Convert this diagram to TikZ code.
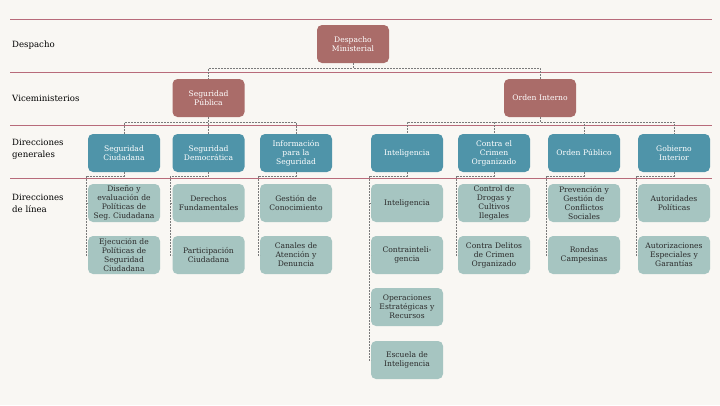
\documentclass[tikz,border=0pt]{standalone}
\usepackage{fontspec}
\setmainfont{DejaVu Serif}
\usepackage{xcolor}
\usetikzlibrary{positioning}
\definecolor{pagebg}{HTML}{F9F7F3}
\definecolor{rulepink}{HTML}{B86B7A}
\definecolor{topred}{HTML}{AA6C69}
\definecolor{genblue}{HTML}{4F94A9}
\definecolor{linesage}{HTML}{A6C5C1}
\definecolor{conngray}{HTML}{7A7A7A}
\definecolor{inkdark}{HTML}{2B2B2B}
\tikzstyle{box} = [rounded corners=5pt, minimum width=72pt, minimum height=38pt, text width=71pt, align=center, inner sep=0.5pt, font=\fontsize{7.6}{9}\selectfont]
\tikzset{vice/.style={box, fill=topred, text=white},
    dirgen/.style={box, fill=genblue, text=white},
    dirlin/.style={box, fill=linesage, text=inkdark},
    lab/.style={anchor=west, align=left, inner sep=0pt, text=black, font=\fontsize{8.6}{12}\selectfont},
    rule/.style={draw=rulepink, line width=0.7pt},
    conn/.style={draw=conngray, line width=0.6pt, dash pattern=on 2pt off 1pt}}

\begin{document}
\begin{tikzpicture}[x=1pt, y=-1pt]
    % Page and row rules
    \fill[pagebg] (0,0) rectangle (720,405);
    \useasboundingbox (0,0) rectangle (720,405);
    \foreach \y in {19,72,125,178}
        \draw[rule] (10,\y) -- (712,\y);
    %
    \node[lab] (lDes) at (12,45) {Despacho};
    \node[lab] (lVic) at (12,98) {Viceministerios};
    \node[lab] (lGen) at (12,149) {Direcciones\\generales};
    \node[lab] (lLin) at (12,203) {Direcciones\\de línea};
    % Despacho and viceministerios
    \node[vice] (dm) at (353,44) {Despacho\\Ministerial};
    \node[vice] (sp) at (208.5,98) {Seguridad\\Pública};
    \node[vice] (oi) at (540,98) {Orden Interno};
    % Direcciones generales
    \node[dirgen] (sc) at (124,153) {Seguridad\\Ciudadana};
    \node[dirgen] (sd) at (208.5,153) {Seguridad\\Democrática};
    \node[dirgen] (is) at (296,153) {Información\\para la\\Seguridad};
    \node[dirgen] (in) at (407,153) {Inteligencia};
    \node[dirgen] (co) at (494,153) {Contra el\\Crimen\\Organizado};
    \node[dirgen] (op) at (584,153) {Orden Público};
    \node[dirgen] (gi) at (674,153) {Gobierno\\Interior};
    % Direcciones de linea
    \node[dirlin] (sc1) at (124,203) {Diseño y\\evaluación de\\Políticas de\\Seg.\ Ciudadana};
    \node[dirlin] (sc2) at (124,255) {Ejecución de\\Políticas de\\Seguridad\\Ciudadana};
    \node[dirlin] (sd1) at (208.5,203) {Derechos\\Fundamentales};
    \node[dirlin] (sd2) at (208.5,255) {Participación\\Ciudadana};
    \node[dirlin] (is1) at (296,203) {Gestión de\\Conocimiento};
    \node[dirlin] (is2) at (296,255) {Canales de\\Atención y\\Denuncia};
    \node[dirlin] (in1) at (407,203) {Inteligencia};
    \node[dirlin] (in2) at (407,255) {Contrainteli-\\gencia};
    \node[dirlin] (in3) at (407,307) {Operaciones\\Estratégicas y\\Recursos};
    \node[dirlin] (in4) at (407,360) {Escuela de\\Inteligencia};
    \node[dirlin] (co1) at (494,203) {Control de\\Drogas y\\Cultivos\\Ilegales};
    \node[dirlin] (co2) at (494,255) {Contra Delitos\\de Crimen\\Organizado};
    \node[dirlin] (op1) at (584,203) {Prevención y\\Gestión de\\Conflictos\\Sociales};
    \node[dirlin] (op2) at (584,255) {Rondas\\Campesinas};
    \node[dirlin] (gi1) at (674,203) {Autoridades\\Políticas};
    \node[dirlin] (gi2) at (674,255) {Autorizaciones\\Especiales y\\Garantías};
    % Connectors
    \foreach \p/\c in {dm/sp, dm/oi, sp/sc, sp/sd, sp/is, oi/in, oi/co, oi/op, oi/gi}
        \draw[conn] (\p.south) -- ++(0,5) -| (\c.north);
    \foreach \p/\c in {sc/sc1, sc/sc2, sd/sd1, sd/sd2, is/is1, is/is2,
        in/in1, in/in2, in/in3, in/in4, co/co1, co/co2, op/op1, op/op2, gi/gi1, gi/gi2}
        \draw[conn] (\p.south) -- ++(0,4) -| ([xshift=-2pt]\c.west) -- (\c.west);
\end{tikzpicture}
\end{document}
